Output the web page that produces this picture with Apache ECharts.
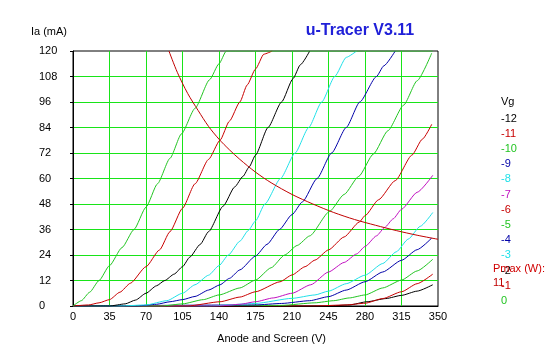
<!DOCTYPE html>
<html>
<head>
<meta charset="utf-8">
<script src="https://cdn.jsdelivr.net/npm/echarts@6/dist/echarts.min.js"></script>
<style>
html,body{margin:0;padding:0;background:#fff;}
#chart{width:547px;height:357px;}
</style>
</head>
<body>
<div id="chart"></div>
<script>
// ---- Data (anode+screen voltage V, anode current mA) ----
const vg0V  = [0, 8, 16, 25, 35, 47, 58.5, 70, 81, 93, 104, 117, 131, 140, 147, 345];
const vg0I  = [0, 2.5, 6.5, 12, 19, 27.5, 36, 46.5, 57.5, 69.5, 81, 93, 106.5, 114, 120, 120];
const vg1V  = [0, 15, 25, 35, 45, 55, 70, 83, 93, 105, 117, 130, 141, 150, 160, 167, 175, 183, 191];
const vg1I  = [0, 0.5, 1.5, 3, 6.5, 10.7, 18.5, 26.4, 35, 46, 57.5, 69, 78, 87, 96, 104, 111.5, 118.5, 120];
const vg2V  = [0, 35, 50, 60, 70, 80, 88, 97, 105, 112, 122, 130, 144, 155, 163, 169, 175, 187, 200, 211, 218, 227];
const vg2I  = [0, 0, 1, 2.8, 6, 9.5, 12, 15, 18.5, 23, 29, 35, 47, 56, 61, 65.5, 71, 84, 96, 107, 113.5, 120];
const vg3V  = [0, 45, 70, 90, 105, 117, 130, 140, 149, 160, 168, 175, 184, 199, 213, 226, 238.5, 251, 262, 272];
const vg3I  = [0, 0, 0.5, 2.5, 6, 10, 14.5, 19, 24, 30.5, 35.5, 40, 48, 60, 72, 84, 96, 108, 117, 120];
const vg4V  = [0, 61, 80, 93, 105, 117, 130, 141, 150, 160, 175, 186, 198, 210, 220, 234, 248, 262, 275, 291, 298, 309];
const vg4I  = [0, 0, 0.8, 2, 3, 4.5, 7.5, 10, 13, 17, 23.5, 29, 36, 43, 49, 60, 72, 84, 96, 108, 113, 120];
const vg5V  = [0, 85, 105, 125, 140, 160, 175, 190, 203, 215, 227, 246, 260, 274, 288, 302, 317, 330, 344];
const vg5I  = [0, 0, 1, 3, 5.2, 8.5, 12.2, 18, 24, 28.5, 33, 44.5, 52.5, 61, 71.5, 82.5, 94.5, 106, 119];
const vg6V  = [0, 110, 141, 160, 175, 198.5, 210, 222.5, 232, 245, 260, 274.5, 280, 293, 309, 325, 335, 344];
const vg6I  = [0, 0, 2, 4.2, 6.7, 11.4, 14.6, 18.5, 21.6, 26.4, 32.5, 39.5, 42.5, 50, 59, 71, 78.5, 85.5];
const vg7V  = [0, 140, 160, 175, 192, 210, 228, 245, 260, 272, 280, 291, 299, 307, 315, 330, 345];
const vg7I  = [0, 0, 0.8, 2, 3.8, 6, 10, 16, 20.5, 24.5, 28, 33, 37, 41, 45.5, 53.5, 61.5];
const vg8V  = [0, 130, 175, 210, 232, 245, 262, 280, 297, 310, 321.5, 333, 345];
const vg8I  = [0, 0, 1.2, 3.6, 5.2, 7, 10.5, 14.5, 20, 25.5, 31.5, 37.5, 44];
const vg9V  = [0, 175, 200, 227, 245, 262, 280, 297, 315, 330, 344];
const vg9I  = [0, 0.5, 1.2, 2.5, 4.4, 7.5, 11.4, 16, 21.5, 26.5, 32];
const vg10V = [0, 200, 232, 250, 265, 280, 297, 315, 330, 345];
const vg10I = [0, 0.3, 1.5, 2.5, 3.8, 5.2, 8.5, 12.2, 16.5, 22];
const vg11V = [0, 230, 262, 280, 297, 315, 330, 345];
const vg11I = [0, 0, 0.5, 1.3, 3.5, 6.7, 10.5, 15];
const vg12V = [0, 245, 265, 282, 300, 315, 330, 345];
const vg12I = [0, 0, 0.5, 2, 3.5, 5, 7, 10];
// Pmax = 11 W limit curve
const pmaxV = [92, 100, 110, 120, 130, 140, 150, 160, 175, 190, 210, 230, 250, 270, 290, 310, 330, 350];
const pmaxI = [120, 110, 100, 92, 84.5, 78.5, 73.5, 69, 63, 58, 52.5, 48, 44, 40.7, 38, 35.5, 33.3, 31.4];

const xTicks = [0, 35, 70, 105, 140, 175, 210, 245, 280, 315, 350];
const yTicks = [0, 12, 24, 36, 48, 60, 72, 84, 96, 108, 120];
const vgLabels = ['-12', '-11', '-10', '-9', '-8', '-7', '-6', '-5', '-4', '-3', '-2', '-1', '0'];
const pmaxLabel = 'Pmax (W):';
const pmaxValue = '11';

// ---- styling ----
const C = {black:'#000000', red:'#c80000', green:'#22c422', navy:'#0000a8', cyan:'#20e0e8', magenta:'#c010c0'};
const vgColors = [C.black, C.red, C.green, C.navy, C.cyan, C.magenta, C.red, C.green, C.navy, C.cyan, C.black, C.red, C.green];
const curves = [
  [vg12V, vg12I], [vg11V, vg11I], [vg10V, vg10I], [vg9V, vg9I], [vg8V, vg8I], [vg7V, vg7I],
  [vg6V, vg6I], [vg5V, vg5I], [vg4V, vg4I], [vg3V, vg3I], [vg2V, vg2I], [vg1V, vg1I], [vg0V, vg0I]
];
const zip = (a, b) => a.map((v, i) => [v, b[i]]);
const FONT = 'Liberation Sans, Arial, sans-serif';

const series = curves.map((c, i) => ({
  name: vgLabels[i], type: 'line', data: zip(c[0], c[1]),
  showSymbol: false, smooth: 0.2, smoothMonotone: 'x',
  lineStyle: {color: vgColors[i], width: 1}, itemStyle: {color: vgColors[i]},
  silent: true, animation: false, z: 3
}));
series.push({
  name: 'Pmax', type: 'line', data: zip(pmaxV, pmaxI), showSymbol: false, smooth: 0.3,
  lineStyle: {color: '#c00000', width: 1}, silent: true, animation: false, z: 3
});

const graphics = [];
graphics.push({type:'text', left: 501, top: 96, style:{text:'Vg', fill:'#000', font:'11px ' + FONT}});
vgLabels.forEach((t, i) => {
  graphics.push({type:'text', left: 501, top: 113 + i * 15.2, style:{text: t, fill: vgColors[i], font:'11px ' + FONT}});
});
graphics.push({type:'text', left: 493, top: 263, style:{text: pmaxLabel, fill:'#d00000', font:'11px ' + FONT}});
graphics.push({type:'text', left: 493, top: 277, style:{text: pmaxValue, fill:'#c00000', font:'11px ' + FONT}});
graphics.push({type:'text', x: 360, y: 31, style:{text:'u-Tracer V3.11', fill:'#2020d8', font:'bold 16px ' + FONT, align:'center', verticalAlign:'middle'}});

const chart = echarts.init(document.getElementById('chart'), null, {renderer:'canvas'});
chart.setOption({
  animation: false,
  backgroundColor: '#ffffff',
  grid: {left: 73, top: 51, right: 109, bottom: 51, show: true, borderColor: '#000', borderWidth: 1, backgroundColor: 'transparent'},
  xAxis: {
    type: 'value', min: xTicks[0], max: xTicks[xTicks.length - 1], interval: 35,
    name: 'Anode and Screen (V)', nameLocation: 'middle', nameGap: 27,
    nameTextStyle: {color:'#000', fontSize: 11, fontFamily: FONT, padding: [0, 0, 0, 32]},
    axisLine: {show: true, lineStyle: {color:'#000', width: 1}},
    axisTick: {show: false},
    axisLabel: {color:'#000', fontSize: 11, fontFamily: FONT, margin: 5},
    splitLine: {show: true, showMinLine: false, showMaxLine: false, lineStyle: {color:'#18e418', width: 1}}
  },
  yAxis: {
    type: 'value', min: yTicks[0], max: yTicks[yTicks.length - 1], interval: 12,
    name: 'Ia (mA)', nameLocation: 'end', nameGap: 14,
    nameTextStyle: {color:'#000', fontSize: 11, fontFamily: FONT, padding: [0, 48, 0, 0]},
    axisLine: {show: true, lineStyle: {color:'#000', width: 1}},
    axisTick: {show: true, inside: false, length: 3, lineStyle: {color:'#000'}},
    axisLabel: {color:'#000', fontSize: 11, fontFamily: FONT, margin: 34, align: 'left'},
    splitLine: {show: true, showMinLine: false, showMaxLine: false, lineStyle: {color:'#18e418', width: 1}}
  },
  graphic: graphics,
  series: series
});
</script>
</body>
</html>
